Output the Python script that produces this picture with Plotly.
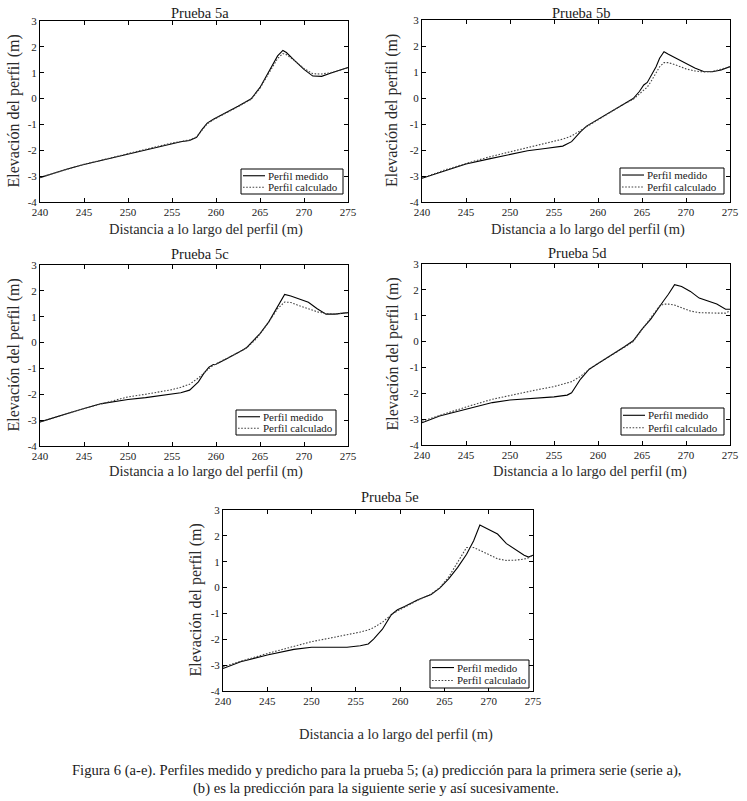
import plotly.graph_objects as go

W, H = 747, 801

# ---------------- data ----------------
panel_titles = ["Prueba 5a", "Prueba 5b", "Prueba 5c", "Prueba 5d", "Prueba 5e"]
series_names = ["Perfil medido", "Perfil calculado"]
x_ticks = [240, 245, 250, 255, 260, 265, 270, 275]
y_ticks = [-4, -3, -2, -1, 0, 1, 2, 3]
x_label = "Distancia a lo largo del perfil (m)"
y_label = "Elevación del perfil (m)"

x_a = [240, 242, 243, 245, 247.5, 250, 252.5, 255, 256, 257, 257.8, 258.4, 259, 259.7, 260.4,
       261.5, 262.5, 263.5, 264, 265, 266, 267, 267.6, 268, 269, 270, 271, 272, 273, 274, 275]
meas_a = [-3.06, -2.84, -2.73, -2.55, -2.35, -2.13, -1.93, -1.73, -1.67, -1.62, -1.5, -1.2, -0.95,
          -0.8, -0.68, -0.48, -0.3, -0.1, -0.01, 0.43, 1.06, 1.65, 1.86, 1.78, 1.45, 1.13, 0.87,
          0.86, 0.98, 1.1, 1.2]
calc_a = [-3.05, -2.84, -2.73, -2.54, -2.34, -2.12, -1.92, -1.72, -1.66, -1.6, -1.48, -1.22, -0.98,
          -0.82, -0.7, -0.5, -0.32, -0.12, -0.03, 0.4, 1.0, 1.55, 1.74, 1.7, 1.45, 1.16, 0.96,
          0.95, 1.0, 1.1, 1.19]

x_b = [240, 242.5, 245, 247.5, 250, 252, 254, 255, 256, 257, 258, 258.7, 259.2, 260, 261, 262,
       263, 264, 264.7, 265.2, 265.6, 266, 266.6, 267, 267.5, 268, 269, 270, 271, 272, 273, 274, 275]
meas_b = [-3.09, -2.8, -2.54, -2.35, -2.17, -2.03, -1.94, -1.9, -1.85, -1.68, -1.3, -1.08, -0.98,
          -0.8, -0.6, -0.4, -0.2, -0.02, 0.25, 0.5, 0.6, 0.82, 1.2, 1.53, 1.78, 1.68, 1.5, 1.3,
          1.15, 1.02, 1.01, 1.08, 1.21]
calc_b = [-3.08, -2.78, -2.52, -2.28, -2.07, -1.91, -1.76, -1.68, -1.58, -1.46, -1.25, -1.12, -1.02,
          -0.82, -0.62, -0.42, -0.22, -0.05, 0.15, 0.3, 0.42, 0.62, 0.95, 1.2, 1.36, 1.36, 1.25,
          1.12, 1.04, 1.0, 1.02, 1.1, 1.2]

x_c = [240, 242.5, 245, 247, 249, 250, 252, 255, 256, 257, 258, 258.6, 259.2, 259.7, 260, 261, 262,
       263, 263.5, 264.5, 265, 266, 267, 267.8, 268.5, 269.5, 270.5, 271.5, 272.5, 273.5, 275]
meas_c = [-3.07, -2.8, -2.55, -2.36, -2.24, -2.2, -2.13, -2.0, -1.94, -1.84, -1.52, -1.2, -0.95,
          -0.85, -0.84, -0.66, -0.49, -0.3, -0.19, 0.15, 0.35, 0.8, 1.38, 1.86, 1.8, 1.68, 1.56,
          1.31, 1.1, 1.1, 1.16]
calc_c = [-3.07, -2.8, -2.55, -2.37, -2.18, -2.1, -2.0, -1.82, -1.73, -1.61, -1.37, -1.18, -1.0,
          -0.88, -0.82, -0.65, -0.48, -0.3, -0.2, 0.12, 0.33, 0.8, 1.31, 1.57, 1.55, 1.42, 1.29,
          1.19, 1.12, 1.1, 1.16]

x_d = [240, 242, 245, 248, 250, 252, 253, 255, 256.5, 257, 258, 259, 260, 261, 262, 263, 264, 265,
       266, 267, 267.5, 268, 268.7, 269.5, 270.5, 271.5, 272.5, 273.5, 274.5, 275]
meas_d = [-3.14, -2.88, -2.62, -2.36, -2.26, -2.22, -2.19, -2.14, -2.07, -1.98, -1.46, -1.07, -0.85,
          -0.64, -0.43, -0.2, 0.03, 0.48, 0.87, 1.38, 1.6, 1.83, 2.2, 2.13, 1.94, 1.68, 1.58, 1.45,
          1.25, 1.25]
calc_d = [-3.08, -2.85, -2.53, -2.23, -2.08, -1.94, -1.87, -1.74, -1.6, -1.55, -1.35, -1.07, -0.85,
          -0.65, -0.45, -0.22, 0.0, 0.45, 0.9, 1.38, 1.45, 1.45, 1.41, 1.3, 1.18, 1.12, 1.1, 1.1,
          1.1, 1.19]

x_e = [240, 242, 245, 248, 250, 252, 254, 255.5, 256.4, 257, 258, 259, 259.7, 260.5, 262, 263.5,
       264.5, 265.5, 266.5, 267.5, 268.3, 269, 270, 271, 272, 273, 274, 274.5, 275]
meas_e = [-3.13, -2.87, -2.61, -2.39, -2.31, -2.31, -2.31, -2.25, -2.18, -1.99, -1.61, -1.05, -0.86,
          -0.73, -0.47, -0.27, -0.01, 0.35, 0.78, 1.29, 1.81, 2.42, 2.26, 2.07, 1.7, 1.48, 1.25,
          1.18, 1.25]
calc_e = [-3.07, -2.85, -2.55, -2.28, -2.09, -1.96, -1.83, -1.72, -1.64, -1.55, -1.34, -1.05, -0.9,
          -0.75, -0.49, -0.25, 0.0, 0.42, 1.0, 1.55, 1.55, 1.45, 1.28, 1.11, 1.05, 1.06, 1.1, 1.15,
          1.26]

caption_lines = [
    "Figura 6 (a-e). Perfiles medido y predicho para la prueba 5; (a) predicción para la primera serie (serie a),",
    "(b) es la predicción para la siguiente serie y así sucesivamente.",
]

# ---------------- layout geometry (pixels) ----------------
boxes = [(40, 348, 21, 202), (422, 730, 20, 202), (40, 348, 265, 446),
         (422, 730, 264, 445), (223, 533, 510, 691)]           # left, right, top, bottom
title_pos = [(200, 13), (581, 13), (200, 254), (577, 253), (390, 497)]
xtitle_pos = [(206, 229), (588, 229), (206, 471), (590, 471), (396, 734)]
ytitle_x = [13, 392, 13, 392, 195]
legend_boxes = [(241, 169, 343, 194), (620, 168, 724, 194), (236, 410, 336, 435),
                (621, 408, 724, 435), (430, 660, 529, 688)]   # left, top, right, bottom

FONT = "Liberation Serif"
TXT = "#1a1a1a"
px = lambda v: v / W
py = lambda v: 1 - v / H

data = [(x_a, meas_a, calc_a), (x_b, meas_b, calc_b), (x_c, meas_c, calc_c),
        (x_d, meas_d, calc_d), (x_e, meas_e, calc_e)]
line_styles = [dict(color="black", width=1.1), dict(color="#444", width=1.1, dash="1.6px,1.6px")]

fig = go.Figure()
layout = dict(width=W, height=H, margin=dict(l=0, r=0, t=0, b=0, autoexpand=False),
              paper_bgcolor="white", plot_bgcolor="white", template="none",
              font=dict(family=FONT, color=TXT, size=11), showlegend=False)
annotations = []
shapes = []


def ann(text, x, y, size, angle=0, xanchor="center", color=TXT):
    annotations.append(dict(text=text, x=px(x), y=py(y), xref="paper", yref="paper",
                            showarrow=False, xanchor=xanchor, yanchor="middle",
                            textangle=angle, font=dict(family=FONT, size=size, color=color)))


for i, (xs, ms, cs) in enumerate(data):
    n = "" if i == 0 else str(i + 1)
    for name, ys, st in zip(series_names, [ms, cs], line_styles):
        fig.add_trace(go.Scatter(x=xs, y=ys, mode="lines", name=name, line=st,
                                 xaxis="x" + n, yaxis="y" + n, showlegend=False))
    l, r, t, b = boxes[i]
    axcommon = dict(showline=True, linecolor="black", linewidth=1, mirror="ticks",
                    ticks="inside", ticklen=4, tickcolor="black", tickwidth=1, showgrid=False,
                    zeroline=False, automargin=False,
                    tickfont=dict(family=FONT, size=11, color=TXT))
    layout["xaxis" + n] = dict(domain=[px(l), px(r)], anchor="y" + n, range=[240, 275],
                               tickvals=x_ticks, ticktext=[str(v) for v in x_ticks], **axcommon)
    layout["yaxis" + n] = dict(domain=[py(b), py(t)], anchor="x" + n, range=[-4, 3],
                               tickvals=y_ticks, ticktext=[str(v) for v in y_ticks], **axcommon)

    # titles
    tx, ty = title_pos[i]
    ann(panel_titles[i], tx, ty, 14.5)
    xx, xy = xtitle_pos[i]
    ann(x_label, xx, xy, 14.5, color="#2a2a2a")
    ann(y_label, ytitle_x[i], (t + b) / 2, 16, angle=-90, color="#2a2a2a")

    # legend box (drawn like the MATLAB legend)
    ll, lt, lr, lb = legend_boxes[i]
    shapes.append(dict(type="rect", xref="paper", yref="paper", x0=px(ll), x1=px(lr),
                       y0=py(lb), y1=py(lt), line=dict(color="black", width=1),
                       fillcolor="white", layer="above"))
    rows = [lt + (lb - lt) * 0.27, lt + (lb - lt) * 0.73]
    for name, st, ry in zip(series_names, line_styles, rows):
        shapes.append(dict(type="line", xref="paper", yref="paper", x0=px(ll + 2),
                           x1=px(ll + 24), y0=py(ry), y1=py(ry), line=st, layer="above"))
        ann(name, ll + 25, ry, 11, xanchor="left")

ann(caption_lines[0], 376, 770, 14.6)
ann(caption_lines[1], 376, 788, 14.6)
layout["annotations"] = annotations
layout["shapes"] = shapes
fig.update_layout(**layout)
fig.write_html("out.html", config={"displayModeBar": False},
               post_script="document.body.style.margin='0';document.body.style.overflow='hidden';")
